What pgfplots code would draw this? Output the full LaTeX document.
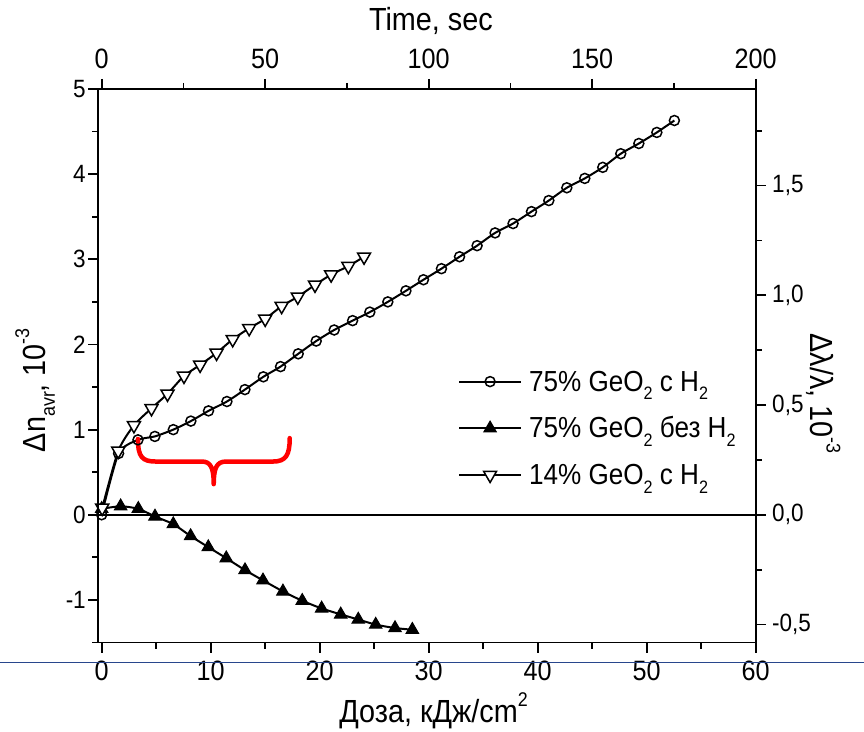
\documentclass[border=0pt]{standalone}
\usepackage{fontspec}
\setmainfont{Liberation Sans}[FakeStretch=0.9]
\usepackage{graphicx}
\usepackage{pgfplots}
\pgfplotsset{compat=1.18}
\newcommand{\sub}[1]{\raisebox{-0.3em}{\scalebox{0.62}{#1}}}
\newcommand{\sups}[1]{\raisebox{0.5em}{\scalebox{0.62}{#1}}}
\newcommand{\lfont}{\fontsize{32}{36}\selectfont}
\definecolor{bline}{RGB}{40,70,140}

\pgfplotstableread{
x y
0 0
1.55 0.72
3.33 0.88
4.88 0.92
6.57 1.00
8.18 1.10
9.80 1.22
11.49 1.33
13.14 1.47
14.83 1.62
16.41 1.74
18.03 1.89
19.68 2.04
21.33 2.17
23.02 2.28
24.60 2.38
26.25 2.50
27.91 2.63
29.52 2.76
31.17 2.89
32.83 3.03
34.44 3.16
36.09 3.31
37.74 3.42
39.43 3.56
41.02 3.69
42.67 3.84
44.32 3.95
45.97 4.08
47.62 4.24
49.28 4.36
50.93 4.49
52.54 4.63
}\circdata

\pgfplotstableread{
x y
0 0.07
1.74 0.10
3.36 0.07
4.89 -0.02
6.57 -0.11
8.16 -0.25
9.78 -0.38
11.43 -0.51
13.15 -0.65
14.80 -0.77
16.63 -0.90
18.40 -1.01
20.18 -1.10
21.93 -1.17
23.54 -1.23
25.14 -1.29
26.91 -1.33
28.50 -1.35
}\filldata

\pgfplotstableread{
x y
0.05 0.08
1.52 0.75
2.96 1.05
4.57 1.25
6.04 1.42
7.55 1.63
9.03 1.76
10.54 1.90
12.02 2.06
13.53 2.19
15.00 2.30
16.51 2.45
17.99 2.56
19.57 2.70
21.05 2.82
22.63 2.92
24.07 3.03
}\tridata

\begin{document}
\begin{tikzpicture}
\pgfplotsset{
  myaxis/.style={
    at={(0pt,0pt)}, anchor=south west,
    scale only axis, width=657.4pt, height=553.5pt,
    axis line style={line width=1.8pt, -},
    tick style={black, line width=1.8pt},
    tick align=outside,
    major tick length=10pt, minor tick length=6pt,
  }
}
\begin{axis}[myaxis,
  xmin=-0.31, xmax=60, ymin=-1.5, ymax=5,
  xtick pos=left, ytick pos=left,
  xticklabel pos=left, yticklabel pos=left,
  xticklabel style={font=\fontsize{28}{28}\selectfont, yshift=-5pt},
  yticklabel style={font=\fontsize{25}{25}\selectfont, xshift=1pt},
  xtick={0,10,20,30,40,50,60}, xticklabels={0,10,20,30,40,50,60},
  minor xtick={5,15,25,35,45,55},
  ytick={-1,0,1,2,3,4,5}, yticklabels={-1,0,1,2,3,4,5},
  minor ytick={-1.5,-0.5,0.5,1.5,2.5,3.5,4.5},
  xlabel={Доза, кДж/cm\sups{2}},
  ylabel={Δn\sub{avr}, 10\sups{-3}},
  every axis x label/.style={at={(axis description cs:0.51,-0.085)}, anchor=north, font=\lfont},
  every axis y label/.style={at={(axis description cs:-0.096,0.456)}, anchor=center, rotate=90, font=\lfont},
  legend style={draw=none, fill=none, at={(axis description cs:0.547,0.387)}, anchor=west,
    font=\fontsize{29}{29}\selectfont, inner sep=0pt, row sep=27.7pt, column sep=7pt,
    nodes={inner sep=0pt, text height=19pt, text depth=0pt}},
  legend cell align=left,
  legend image code/.code={\draw[mark repeat=2, mark phase=2] plot coordinates {(0pt,0pt) (31pt,0pt) (62pt,0pt)};},
]
\draw[black, line width=1.8pt] (axis cs:-0.31,0) -- (axis cs:60,0);
\addplot[black, line width=2pt, smooth, tension=0.4, mark=o, mark size=5pt, mark options={line width=1.5pt, fill=white}] table[x=x,y=y] {\circdata};
\addlegendentry{75\% GeO\sub{2} с H\sub{2}}
\addplot[black, line width=2pt, smooth, tension=0.4, mark=triangle*, mark size=7.2pt, mark options={line width=1pt, fill=black}] table[x=x,y=y] {\filldata};
\addlegendentry{75\% GeO\sub{2} без H\sub{2}}
\addplot[black, line width=2pt, smooth, tension=0.4, mark=triangle*, mark size=7.5pt, mark options={line width=1.5pt, fill=white, rotate=180}] table[x=x,y=y] {\tridata};
\addlegendentry{14\% GeO\sub{2} с H\sub{2}}
\draw[red, line width=4.5pt, line cap=round, line join=round]
  (axis cs:3.33,0.89) .. controls (axis cs:3.33,0.68) and (axis cs:3.7,0.625) .. (axis cs:5.0,0.625)
  -- (axis cs:9.2,0.625) .. controls (axis cs:10.0,0.625) and (axis cs:10.28,0.55) .. (axis cs:10.28,0.36)
  .. controls (axis cs:10.28,0.55) and (axis cs:10.56,0.625) .. (axis cs:11.4,0.625)
  -- (axis cs:15.7,0.625) .. controls (axis cs:16.9,0.625) and (axis cs:17.25,0.7) .. (axis cs:17.25,0.9);
\end{axis}
\begin{axis}[myaxis,
  xmin=-1.033, xmax=200, ymin=-0.582, ymax=1.94,
  xtick pos=right, ytick pos=right,
  xticklabel pos=right, yticklabel pos=right,
  xticklabel style={font=\fontsize{28}{28}\selectfont, yshift=7pt},
  yticklabel style={font=\fontsize{25}{25}\selectfont, xshift=3pt},
  xtick={0,50,100,150,200}, xticklabels={0,50,100,150,200},
  minor xtick={25,75,125,175},
  ytick={-0.5,0,0.5,1,1.5}, yticklabels={{-0,5},{0,0},{0,5},{1,0},{1,5}},
  minor ytick={-0.25,0.25,0.75,1.25,1.75},
  xlabel={Time, sec},
  ylabel={Δλ/λ, 10\sups{-3}},
  every axis x label/.style={at={(axis description cs:0.506,1.105)}, anchor=base, font=\lfont},
  every axis y label/.style={at={(axis description cs:1.103,0.45)}, anchor=center, rotate=-90, font=\lfont},
]
\end{axis}
\draw[bline, line width=1pt] (-98.3pt,-19.8pt) -- (765.7pt,-19.8pt);
\pgfresetboundingbox
\useasboundingbox (-98.3pt,-88.5pt) rectangle (765.7pt,642.5pt);
\end{tikzpicture}
\end{document}
